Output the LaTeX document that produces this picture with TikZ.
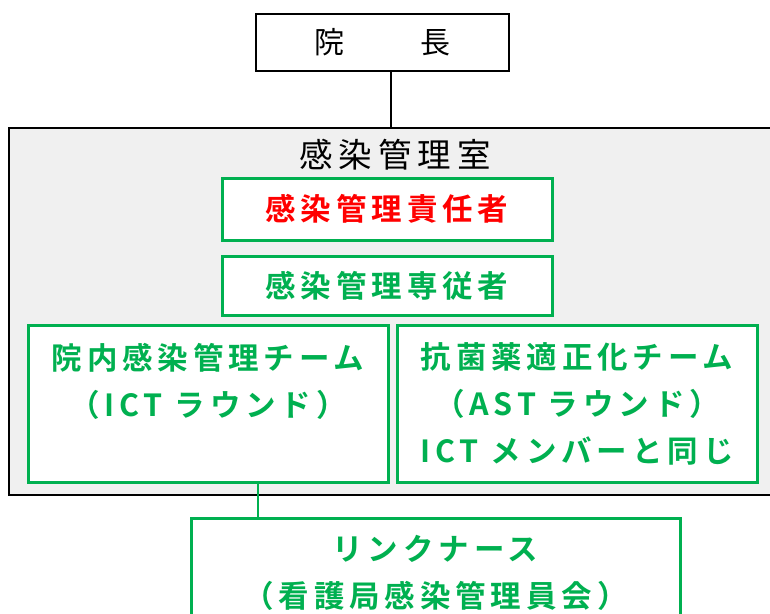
\documentclass[tikz,border=0pt]{standalone}
\usepackage{fontspec}
\setmainfont{Noto Sans CJK JP}
\newfontfamily\jpsp[LetterSpace=16]{Noto Sans CJK JP Bold}
\newfontfamily\jpti[LetterSpace=18]{Noto Sans CJK JP}
\definecolor{grn}{HTML}{00B050}
\definecolor{rd}{HTML}{FF0000}
\definecolor{bggray}{HTML}{F0F0F0}
\begin{document}
\begin{tikzpicture}[x=1pt,y=-1pt,
  bbox/.style={draw=black, line width=2pt, inner sep=0pt},
  gbox/.style={draw=grn, line width=3pt, fill=white, inner sep=0pt, align=center,
    text=grn, font=\jpsp\fontsize{30.5}{47}\selectfont},
  gline/.style={draw=grn, line width=2.5pt},
  kline/.style={draw=black, line width=1.5pt}]
\useasboundingbox (0,0) rectangle (770,613);
\clip (0,0) rectangle (770,613);
\node[bbox, fill=white, minimum width=253pt, minimum height=57pt,
  font=\fontsize{30}{30}\selectfont] (dir) at (382.5,42.5) {院\hspace{76pt}長};
\node[bbox, fill=bggray, minimum width=800pt, minimum height=367pt, anchor=north west] (room) at (8,127) {};
\draw[kline] ([xshift=8.5pt]dir.south) -- ([xshift=8.5pt]dir.south |- room.north);
\node[font=\jpti\fontsize{33.5}{33.5}\selectfont] (title) at (395,155) {感染管理室};
\node[gbox, text=rd, minimum width=330pt, minimum height=62pt] (resp) at (387,209) {感染管理責任者};
\node[gbox, minimum width=330pt, minimum height=59pt] (staff) at (387,285.5) {感染管理専従者};
\node[gbox, minimum width=360pt, minimum height=157pt] (ict) at (208,403.5) {院内感染管理チーム\\（ICT ラウンド）\\\mbox{}};
\node[gbox, minimum width=360pt, minimum height=157pt] (ast) at (577,403.5) {抗菌薬適正化チーム\\（AST ラウンド）\\ICT メンバーと同じ};
\node[gbox, minimum width=489pt, minimum height=108pt, anchor=north] (link) at (435.5,517) {リンクナース\\（看護局感染管理員会）};
\draw[gline] ([xshift=50pt]ict.south) -- ([xshift=50pt]ict.south |- link.north);
\end{tikzpicture}
\end{document}
